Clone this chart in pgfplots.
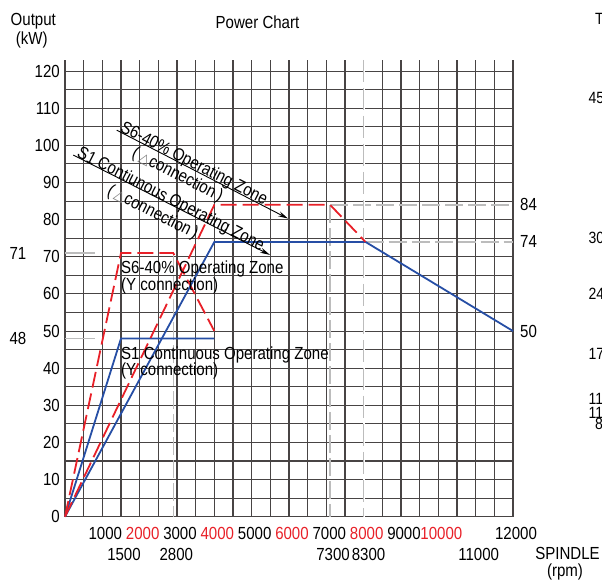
\documentclass[border=0pt]{standalone}
\usepackage{pgfplots}
\pgfplotsset{compat=1.18}
\usepackage{fontspec}
\usetikzlibrary{arrows.meta}
\setmainfont{Liberation Sans}[FakeStretch=0.86]
\newfontfamily\dejavu{DejaVu Sans}
\definecolor{cred}{RGB}{232,32,40}
\definecolor{cblue}{RGB}{38,78,165}
\definecolor{cgrid}{RGB}{72,68,68}
\definecolor{cref}{RGB}{188,188,188}
\newcommand{\lbl}{\fontsize{17.5bp}{17.5bp}\selectfont}
\newcommand{\smlbl}{\fontsize{16.3bp}{16.3bp}\selectfont}
\newcommand{\tri}{{\dejavu\color{gray}\fontsize{14bp}{14bp}\selectfont △}}

\begin{document}
\begin{tikzpicture}
\path[use as bounding box] (-65bp,-66.3bp) rectangle (537bp,516.7bp);
\begin{axis}[
  at={(0,0)}, anchor=south west,
  scale only axis, width=448bp, height=456.7bp,
  xmin=0, xmax=12000, ymin=0, ymax=123,
  axis line style={draw=none},
  scaled x ticks=false, scaled y ticks=false,
  xtick={0,1000,...,12000},
  xticklabels={{},1000,\textcolor{cred}{2000},3000,\textcolor{cred}{4000},5000,\textcolor{cred}{6000},7000,\textcolor{cred}{8000},9000,\textcolor{cred}{10000},{},12000},
  ytick={0,10,...,120},
  minor x tick num=1, minor y tick num=1,
  grid=both,
  major grid style={cgrid, line width=1.05bp},
  minor grid style={cgrid, line width=1.05bp},
  major tick length=0pt, minor tick length=0pt,
  tick style={draw=none},
  ticklabel style={font=\lbl, inner sep=0pt},
  xticklabel style={anchor=north, yshift=-10bp, xshift=3bp},
  yticklabel style={anchor=east, xshift=-5bp},
  extra x ticks={1500,2900,7100,8050,11000},
  extra x tick labels={1500,2800,7300,8300,11000},
  extra x tick style={grid=none, xticklabel style={yshift=-21bp}},
  /pgf/number format/assume math mode=true,
  clip=false,
]
% reference lines
\addplot[cref, line width=1.4bp] coordinates {(0,71)(800,71)};
\addplot[cref, line width=1.4bp] coordinates {(0,48)(800,48)};
\addplot[cref, line width=1.4bp, dash pattern=on 18bp off 5bp] coordinates {(7100,84)(12000,84)};
\addplot[cref, line width=1.4bp, dash pattern=on 18bp off 5bp] coordinates {(8050,74)(12000,74)};
\addplot[cref, line width=1.4bp, dash pattern=on 18bp off 5bp] coordinates {(2900,71)(2900,0)};
\addplot[cref, line width=1.4bp, dash pattern=on 18bp off 5bp] coordinates {(7100,84)(7100,0)};
\addplot[white, line width=2bp] coordinates {(8000,123)(8000,0)};
\addplot[cref, line width=1.4bp, dash pattern=on 22bp off 6bp] coordinates {(8000,123)(8000,0)};

% S1 / S6, Y connection
\addplot[cblue, line width=1.8bp] coordinates {(0,0)(1500,48)(4000,48)};
\addplot[cred, line width=1.8bp, dash pattern=on 16bp off 6bp] coordinates {(0,0)(1500,71)(2900,71)(4000,50)};
% S1 / S6, delta connection
\addplot[cblue, line width=1.8bp] coordinates {(0,0)(4000,74)(8050,74)(12000,50)};
\addplot[cred, line width=1.8bp, dash pattern=on 16bp off 6bp] coordinates {(0,0)(4000,84)(7100,84)(8050,74)};

% notes
\node[rotate=-27, anchor=base west, inner sep=0pt, font=\lbl] at (axis cs:1452,103.8) {S6-40\% Operating Zone};
\node[rotate=-27, anchor=base west, inner sep=0pt, font=\lbl] at (axis cs:1765,97.0) {(\,\tri connection\,)};
\draw[-{Stealth[length=10bp,width=5bp]}, line width=0.9bp] (axis cs:1385,104.1) -- (axis cs:5973,80.3);
\node[rotate=-27, anchor=base west, inner sep=0pt, font=\lbl] at (axis cs:292,97.0) {S1 Contiunous Operating Zone};
\node[rotate=-27, anchor=base west, inner sep=0pt, font=\lbl] at (axis cs:1101,86.9) {(\,\tri connection\,)};
\draw[-{Stealth[length=10bp,width=5bp]}, line width=0.9bp] (axis cs:222,97.4) -- (axis cs:5491,70.5);

\node[anchor=base west, inner sep=0pt, font=\lbl] at (axis cs:1500,65.5) {S6-40\% Operating Zone};
\node[anchor=base west, inner sep=0pt, font=\lbl] at (axis cs:1500,60.9) {(Y connection)};
\node[anchor=base west, inner sep=0pt, font=\lbl] at (axis cs:1500,42.4) {S1 Continuous Operating Zone};
\node[anchor=base west, inner sep=0pt, font=\lbl] at (axis cs:1500,37.9) {(Y connection)};

\node[inner sep=0pt, font=\lbl, xshift=-47bp] at (axis cs:0,71) {71};
\node[inner sep=0pt, font=\lbl, xshift=-47bp] at (axis cs:0,48) {48};
\node[inner sep=0pt, font=\lbl, xshift=15.5bp] at (axis cs:12000,84) {84};
\node[inner sep=0pt, font=\lbl, xshift=15.5bp] at (axis cs:12000,74) {74};
\node[inner sep=0pt, font=\lbl, xshift=15.5bp] at (axis cs:12000,50) {50};
\end{axis}

\node[anchor=base, inner sep=0pt, font=\lbl] at (192.5bp,487.7bp) {Power Chart};
\node[anchor=base, inner sep=0pt, font=\lbl] at (-31.7bp,490.7bp) {Output};
\node[anchor=base, inner sep=0pt, font=\lbl] at (-33.3bp,472.4bp) {(kW)};
\node[anchor=base, inner sep=0pt, font=\lbl] at (502.5bp,-42.6bp) {SPINDLE};
\node[anchor=base, inner sep=0pt, font=\lbl] at (500bp,-59.3bp) {(rpm)};

% the next chart, cut off at the right edge
\node[anchor=base west, inner sep=0pt, font=\smlbl] at (530bp,491.7bp) {T};
\node[anchor=base west, inner sep=0pt, font=\smlbl] at (523.3bp,413.4bp) {45};
\node[anchor=base west, inner sep=0pt, font=\smlbl] at (523.3bp,273.4bp) {30};
\node[anchor=base west, inner sep=0pt, font=\smlbl] at (523.3bp,216.7bp) {24};
\node[anchor=base west, inner sep=0pt, font=\smlbl] at (523.3bp,156.7bp) {17};
\node[anchor=base west, inner sep=0pt, font=\smlbl] at (523.3bp,112.4bp) {11};
\node[anchor=base west, inner sep=0pt, font=\smlbl] at (523.3bp,98.4bp) {11};
\node[anchor=base west, inner sep=0pt, font=\smlbl] at (530bp,86.7bp) {8};
\end{tikzpicture}
\end{document}
